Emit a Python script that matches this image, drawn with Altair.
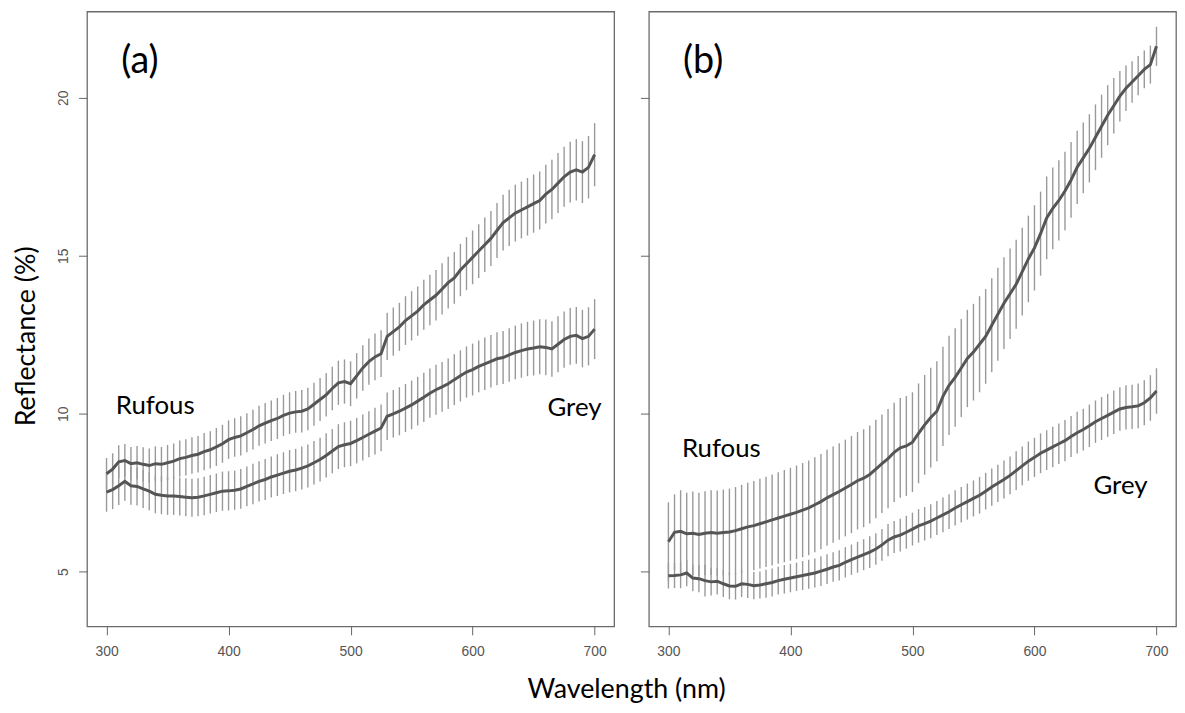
import altair as alt
import numpy as np
import pandas as pd

wavelength = list(range(300, 701, 5))

rufous_a_mean = [
    8.10, 8.25, 8.48, 8.52, 8.42, 8.45, 8.40, 8.36, 8.42, 8.40,
    8.45, 8.50, 8.58, 8.62, 8.68, 8.72, 8.80, 8.86, 8.95, 9.05,
    9.18, 9.25, 9.30, 9.40, 9.50, 9.62, 9.70, 9.78, 9.85, 9.95,
    10.02, 10.06, 10.08, 10.15, 10.30, 10.45, 10.60, 10.80, 10.98, 11.02,
    10.95, 11.20, 11.45, 11.65, 11.80, 11.90, 12.45, 12.60, 12.75, 12.95,
    13.10, 13.25, 13.45, 13.60, 13.75, 13.95, 14.15, 14.30, 14.55, 14.75,
    14.95, 15.15, 15.35, 15.55, 15.80, 16.05, 16.20, 16.35, 16.45, 16.55,
    16.65, 16.75, 16.95, 17.10, 17.30, 17.50, 17.65, 17.72, 17.65, 17.80,
    18.20]
rufous_a_sd = [
    0.50, 0.50, 0.52, 0.52, 0.53, 0.53, 0.54, 0.54, 0.55, 0.55,
    0.56, 0.56, 0.57, 0.57, 0.58, 0.58, 0.59, 0.59, 0.60, 0.60,
    0.61, 0.61, 0.62, 0.62, 0.63, 0.63, 0.64, 0.64, 0.65, 0.65,
    0.66, 0.66, 0.67, 0.67, 0.68, 0.68, 0.69, 0.69, 0.70, 0.70,
    0.71, 0.72, 0.72, 0.73, 0.74, 0.74, 0.75, 0.76, 0.76, 0.77,
    0.78, 0.78, 0.79, 0.80, 0.80, 0.81, 0.82, 0.82, 0.83, 0.84,
    0.85, 0.85, 0.86, 0.87, 0.87, 0.88, 0.89, 0.90, 0.90, 0.91,
    0.92, 0.92, 0.93, 0.94, 0.95, 0.95, 0.96, 0.97, 0.98, 0.99,
    1.00]
grey_a_mean = [
    7.52, 7.60, 7.72, 7.86, 7.72, 7.70, 7.62, 7.55, 7.45, 7.42,
    7.40, 7.40, 7.38, 7.36, 7.34, 7.36, 7.40, 7.45, 7.50, 7.55,
    7.56, 7.58, 7.62, 7.70, 7.78, 7.86, 7.92, 8.00, 8.06, 8.12,
    8.18, 8.22, 8.28, 8.35, 8.45, 8.55, 8.68, 8.82, 8.96, 9.02,
    9.06, 9.15, 9.25, 9.35, 9.45, 9.55, 9.92, 10.00, 10.08, 10.18,
    10.28, 10.40, 10.52, 10.65, 10.76, 10.85, 10.95, 11.08, 11.20, 11.32,
    11.40, 11.50, 11.58, 11.66, 11.74, 11.78, 11.86, 11.94, 12.00, 12.05,
    12.08, 12.12, 12.10, 12.05, 12.20, 12.35, 12.45, 12.48, 12.38, 12.45,
    12.68]
grey_a_sd = [
    0.62, 0.62, 0.61, 0.61, 0.60, 0.60, 0.60, 0.60, 0.60, 0.60,
    0.60, 0.60, 0.60, 0.60, 0.60, 0.60, 0.61, 0.61, 0.61, 0.62,
    0.62, 0.62, 0.63, 0.63, 0.64, 0.64, 0.65, 0.65, 0.66, 0.66,
    0.67, 0.67, 0.68, 0.68, 0.69, 0.69, 0.70, 0.70, 0.71, 0.71,
    0.72, 0.72, 0.73, 0.73, 0.74, 0.74, 0.75, 0.75, 0.76, 0.76,
    0.77, 0.77, 0.78, 0.78, 0.79, 0.79, 0.80, 0.80, 0.81, 0.81,
    0.82, 0.82, 0.83, 0.83, 0.84, 0.84, 0.85, 0.85, 0.86, 0.86,
    0.87, 0.87, 0.88, 0.88, 0.89, 0.89, 0.90, 0.90, 0.91, 0.92,
    0.95]
rufous_b_mean = [
    5.95, 6.25, 6.28, 6.20, 6.22, 6.18, 6.22, 6.24, 6.22, 6.24,
    6.26, 6.30, 6.36, 6.42, 6.46, 6.52, 6.58, 6.64, 6.70, 6.76,
    6.82, 6.88, 6.95, 7.02, 7.12, 7.22, 7.34, 7.44, 7.54, 7.65,
    7.76, 7.88, 7.96, 8.08, 8.25, 8.42, 8.58, 8.78, 8.92, 8.98,
    9.10, 9.38, 9.65, 9.88, 10.08, 10.55, 10.90, 11.15, 11.45, 11.75,
    11.95, 12.20, 12.45, 12.80, 13.15, 13.50, 13.80, 14.10, 14.50, 14.90,
    15.25, 15.70, 16.20, 16.50, 16.75, 17.05, 17.40, 17.80, 18.10, 18.40,
    18.75, 19.10, 19.45, 19.75, 20.05, 20.30, 20.50, 20.70, 20.90, 21.05,
    21.63]
rufous_b_sd = [
    1.25, 1.20, 1.30, 1.30, 1.32, 1.32, 1.33, 1.34, 1.35, 1.36,
    1.37, 1.38, 1.39, 1.40, 1.41, 1.42, 1.43, 1.44, 1.45, 1.46,
    1.47, 1.48, 1.49, 1.50, 1.50, 1.51, 1.52, 1.52, 1.53, 1.53,
    1.54, 1.54, 1.55, 1.55, 1.56, 1.56, 1.57, 1.57, 1.58, 1.58,
    1.58, 1.58, 1.58, 1.58, 1.58, 1.57, 1.57, 1.56, 1.55, 1.54,
    1.53, 1.52, 1.50, 1.49, 1.47, 1.45, 1.43, 1.41, 1.39, 1.37,
    1.35, 1.33, 1.31, 1.29, 1.27, 1.24, 1.20, 1.16, 1.12, 1.08,
    1.04, 1.00, 0.95, 0.88, 0.80, 0.72, 0.66, 0.62, 0.60, 0.60,
    0.62]
grey_b_mean = [
    4.87, 4.88, 4.90, 4.96, 4.80, 4.78, 4.72, 4.68, 4.70, 4.62,
    4.55, 4.54, 4.62, 4.60, 4.56, 4.58, 4.62, 4.66, 4.72, 4.76,
    4.80, 4.84, 4.88, 4.92, 4.96, 5.02, 5.08, 5.15, 5.20, 5.30,
    5.38, 5.46, 5.54, 5.62, 5.72, 5.85, 6.00, 6.10, 6.16, 6.25,
    6.35, 6.45, 6.52, 6.60, 6.70, 6.80, 6.90, 7.02, 7.12, 7.22,
    7.32, 7.42, 7.55, 7.68, 7.80, 7.92, 8.05, 8.20, 8.35, 8.50,
    8.62, 8.75, 8.85, 8.95, 9.05, 9.15, 9.28, 9.40, 9.50, 9.62,
    9.75, 9.85, 9.95, 10.05, 10.15, 10.20, 10.22, 10.25, 10.35, 10.50,
    10.72]
grey_b_sd = [
    0.40, 0.40, 0.42, 0.42, 0.42, 0.43, 0.50, 0.43, 0.42, 0.42,
    0.42, 0.42, 0.42, 0.43, 0.43, 0.43, 0.44, 0.44, 0.44, 0.45,
    0.45, 0.45, 0.46, 0.46, 0.46, 0.47, 0.47, 0.47, 0.48, 0.48,
    0.48, 0.49, 0.49, 0.50, 0.50, 0.50, 0.51, 0.51, 0.52, 0.52,
    0.52, 0.53, 0.53, 0.54, 0.54, 0.55, 0.55, 0.56, 0.56, 0.57,
    0.57, 0.58, 0.58, 0.59, 0.59, 0.60, 0.60, 0.61, 0.61, 0.62,
    0.62, 0.63, 0.63, 0.64, 0.64, 0.65, 0.65, 0.66, 0.66, 0.67,
    0.67, 0.68, 0.68, 0.69, 0.69, 0.70, 0.70, 0.71, 0.71, 0.72,
    0.72]

x_ticks = [300, 400, 500, 600, 700]
y_ticks = [5, 10, 15, 20]


def series_frame(mean, sd, name):
    m = np.array(mean)
    s = np.array(sd)
    return pd.DataFrame({"wl": wavelength, "mean": m, "lo": m - s, "hi": m + s, "series": name})


xscale = alt.Scale(domain=[284, 716], nice=False, zero=False)
yscale = alt.Scale(domain=[3.27, 22.73], nice=False, zero=False)

LINE_COLOR = "#555555"
BAR_COLOR = "#999999"
TEXT_FONT = "Lato"
TITLE_SIZE = 27
LABEL_SIZE = 26
TAG_SIZE = 38


def make_panel(df, tag, rufous_pos, grey_pos, left):
    if left:
        xaxis = alt.Axis(values=x_ticks, title="Wavelength (nm)", titleX=543, titleY=71.3,
                         titleAlign="center", titleBaseline="alphabetic",
                         titleFont=TEXT_FONT, titleFontSize=TITLE_SIZE, titleFontWeight="normal",
                         titleColor="black")
        yaxis = alt.Axis(values=y_ticks, title="Reflectance (%)", titleAngle=270,
                         titleX=-52.7, titleY=326.7, titleAlign="center",
                         titleBaseline="alphabetic", titleFont=TEXT_FONT, titleFontSize=TITLE_SIZE,
                         titleFontWeight="normal", titleColor="black",
                         labelAngle=270, labelAlign="center", labelBaseline="alphabetic",
                         labelPadding=11)
    else:
        xaxis = alt.Axis(values=x_ticks, title="")
        yaxis = alt.Axis(values=y_ticks, title="", labels=False)

    base = alt.Chart(df)
    bars = base.mark_rule(color=BAR_COLOR, strokeWidth=1.4).encode(
        x=alt.X("wl:Q", scale=xscale, axis=xaxis),
        y=alt.Y("lo:Q", scale=yscale, axis=yaxis),
        y2="hi:Q",
    )
    lines = base.mark_line(color=LINE_COLOR, strokeWidth=3).encode(
        x=alt.X("wl:Q", scale=xscale, axis=xaxis),
        y=alt.Y("mean:Q", scale=yscale, axis=yaxis),
        detail="series:N",
    )
    tag_text = alt.Chart().mark_text(align="left", baseline="alphabetic", font=TEXT_FONT,
                                     fontSize=TAG_SIZE, color="black").encode(
        x=alt.datum(312), y=alt.datum(20.77), text=alt.value(tag))
    ruf_text = alt.Chart().mark_text(align="left", baseline="alphabetic", font=TEXT_FONT,
                                     fontSize=LABEL_SIZE, color="black").encode(
        x=alt.datum(rufous_pos[0]), y=alt.datum(rufous_pos[1]), text=alt.value("Rufous"))
    grey_text = alt.Chart().mark_text(align="center", baseline="alphabetic", font=TEXT_FONT,
                                      fontSize=LABEL_SIZE, color="black").encode(
        x=alt.datum(grey_pos[0]), y=alt.datum(grey_pos[1]), text=alt.value("Grey"))
    return alt.layer(bars, lines, tag_text, ruf_text, grey_text).properties(width=531, height=619.4)


df_a = pd.concat([series_frame(rufous_a_mean, rufous_a_sd, "Rufous"),
                  series_frame(grey_a_mean, grey_a_sd, "Grey")], ignore_index=True)
df_b = pd.concat([series_frame(rufous_b_mean, rufous_b_sd, "Rufous"),
                  series_frame(grey_b_mean, grey_b_sd, "Grey")], ignore_index=True)

panel_a = make_panel(df_a, "(a)", (307.6, 10.0), (683.5, 9.92), True)
panel_b = make_panel(df_b, "(b)", (311.1, 8.64), (670.5, 7.47), False)

chart = alt.hconcat(panel_a, panel_b, spacing=35, bounds="flush").properties(
    padding={"left": 3.6, "top": 0, "right": 0, "bottom": 0}
).configure_view(
    stroke="#6b6b6b", strokeWidth=1.3
).configure_axis(
    domain=False, grid=False, tickColor="#666666", tickSize=8.5, tickWidth=1,
    labelFont="Liberation Sans", labelFontSize=14, labelColor="#555555", labelPadding=10
)

chart.save("out.html", embed_options={"renderer": "svg", "actions": False})
